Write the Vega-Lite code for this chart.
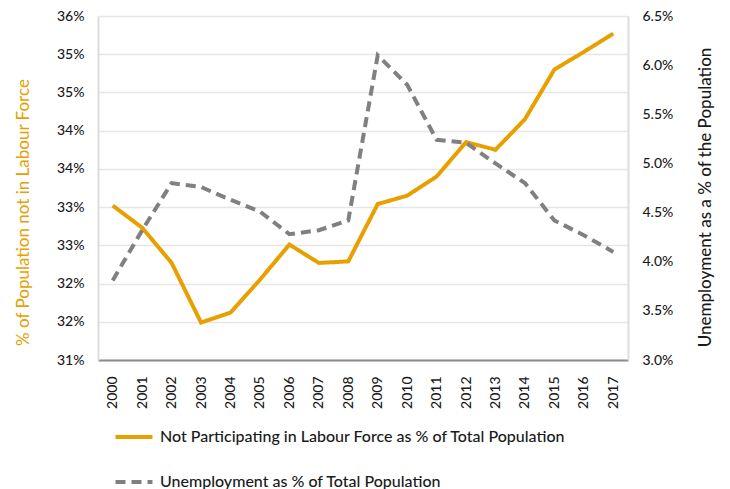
{
  "$schema": "https://vega.github.io/schema/vega-lite/v6.json",
  "width": 530,
  "height": 344,
  "autosize": {"type": "none"},
  "padding": {"left": 98, "top": 16, "right": 102, "bottom": 129},
  "background": "white",
  "config": {
    "font": "Lato",
    "view": {"stroke": null},
    "legend": {
      "orient": "none",
      "legendX": 15,
      "legendY": 400,
      "direction": "vertical",
      "title": null,
      "symbolType": "stroke",
      "symbolSize": 1370,
      "symbolStrokeWidth": 4,
      "labelFontSize": 16,
      "labelColor": "#1a1a1a",
      "labelFontWeight": 500,
      "labelOffset": 5,
      "labelLimit": 600,
      "rowPadding": 16
    }
  },
  "data": {
    "values": [
      {"year": "2000", "series": "Not Participating in Labour Force as % of Total Population", "value": 33.02},
      {"year": "2001", "series": "Not Participating in Labour Force as % of Total Population", "value": 32.73},
      {"year": "2002", "series": "Not Participating in Labour Force as % of Total Population", "value": 32.27},
      {"year": "2003", "series": "Not Participating in Labour Force as % of Total Population", "value": 31.49},
      {"year": "2004", "series": "Not Participating in Labour Force as % of Total Population", "value": 31.62},
      {"year": "2005", "series": "Not Participating in Labour Force as % of Total Population", "value": 32.05},
      {"year": "2006", "series": "Not Participating in Labour Force as % of Total Population", "value": 32.51},
      {"year": "2007", "series": "Not Participating in Labour Force as % of Total Population", "value": 32.27},
      {"year": "2008", "series": "Not Participating in Labour Force as % of Total Population", "value": 32.29},
      {"year": "2009", "series": "Not Participating in Labour Force as % of Total Population", "value": 33.04},
      {"year": "2010", "series": "Not Participating in Labour Force as % of Total Population", "value": 33.15},
      {"year": "2011", "series": "Not Participating in Labour Force as % of Total Population", "value": 33.40},
      {"year": "2012", "series": "Not Participating in Labour Force as % of Total Population", "value": 33.85},
      {"year": "2013", "series": "Not Participating in Labour Force as % of Total Population", "value": 33.75},
      {"year": "2014", "series": "Not Participating in Labour Force as % of Total Population", "value": 34.15},
      {"year": "2015", "series": "Not Participating in Labour Force as % of Total Population", "value": 34.80},
      {"year": "2016", "series": "Not Participating in Labour Force as % of Total Population", "value": 35.03},
      {"year": "2017", "series": "Not Participating in Labour Force as % of Total Population", "value": 35.27},
      {"year": "2000", "series": "Unemployment as % of Total Population", "value": 3.81},
      {"year": "2001", "series": "Unemployment as % of Total Population", "value": 4.32},
      {"year": "2002", "series": "Unemployment as % of Total Population", "value": 4.80},
      {"year": "2003", "series": "Unemployment as % of Total Population", "value": 4.76},
      {"year": "2004", "series": "Unemployment as % of Total Population", "value": 4.63},
      {"year": "2005", "series": "Unemployment as % of Total Population", "value": 4.51},
      {"year": "2006", "series": "Unemployment as % of Total Population", "value": 4.28},
      {"year": "2007", "series": "Unemployment as % of Total Population", "value": 4.32},
      {"year": "2008", "series": "Unemployment as % of Total Population", "value": 4.42},
      {"year": "2009", "series": "Unemployment as % of Total Population", "value": 6.10},
      {"year": "2010", "series": "Unemployment as % of Total Population", "value": 5.80},
      {"year": "2011", "series": "Unemployment as % of Total Population", "value": 5.24},
      {"year": "2012", "series": "Unemployment as % of Total Population", "value": 5.21},
      {"year": "2013", "series": "Unemployment as % of Total Population", "value": 5.00},
      {"year": "2014", "series": "Unemployment as % of Total Population", "value": 4.80},
      {"year": "2015", "series": "Unemployment as % of Total Population", "value": 4.42},
      {"year": "2016", "series": "Unemployment as % of Total Population", "value": 4.27},
      {"year": "2017", "series": "Unemployment as % of Total Population", "value": 4.10}
    ]
  },
  "encoding": {
    "x": {
      "field": "year",
      "type": "ordinal",
      "axis": {
        "title": null,
        "labelAngle": -90,
        "labelFontSize": 14,
        "labelFontWeight": 500,
        "labelColor": "#1a1a1a",
        "labelPadding": 16,
        "ticks": false,
        "domainColor": "#8c8c8c",
        "domainWidth": 2,
        "grid": false
      }
    },
    "color": {
      "field": "series",
      "type": "nominal",
      "scale": {
        "domain": ["Not Participating in Labour Force as % of Total Population", "Unemployment as % of Total Population"],
        "range": ["#E8A000", "#808080"]
      }
    },
    "strokeDash": {
      "field": "series",
      "type": "nominal",
      "scale": {
        "domain": ["Not Participating in Labour Force as % of Total Population", "Unemployment as % of Total Population"],
        "range": [[1, 0], [10, 6]]
      }
    }
  },
  "layer": [
    {
      "transform": [{"filter": "datum.series === 'Not Participating in Labour Force as % of Total Population'"}],
      "mark": {"type": "line", "strokeWidth": 4, "strokeJoin": "miter"},
      "encoding": {
        "y": {
          "field": "value",
          "type": "quantitative",
          "scale": {"domain": [31, 35.5], "nice": false, "zero": false},
          "axis": {
            "orient": "left",
            "values": [31, 31.5, 32, 32.5, 33, 33.5, 34, 34.5, 35, 35.5],
            "labelExpr": "round(datum.value) + '%'",
            "labelFontSize": 14,
            "labelFontWeight": 500,
            "labelColor": "#1a1a1a",
            "labelPadding": 14,
            "ticks": false,
            "domainColor": "#dddddd",
            "domainWidth": 2,
            "gridColor": "#e6e6e6",
            "gridWidth": 1.5,
            "title": "% of  Population not in Labour Force",
            "titleColor": "#E8A000",
            "titleFontSize": 17,
            "titleFontWeight": "normal",
            "titlePadding": 24,
            "titleY": 196
          }
        }
      }
    },
    {
      "transform": [{"filter": "datum.series === 'Unemployment as % of Total Population'"}],
      "mark": {"type": "line", "strokeWidth": 4},
      "encoding": {
        "y": {
          "field": "value",
          "type": "quantitative",
          "scale": {"domain": [3, 6.5], "nice": false, "zero": false},
          "axis": {
            "orient": "right",
            "values": [3, 3.5, 4, 4.5, 5, 5.5, 6, 6.5],
            "labelExpr": "format(datum.value, '.1f') + '%'",
            "labelFontSize": 14,
            "labelFontWeight": 500,
            "labelColor": "#1a1a1a",
            "labelPadding": 14,
            "ticks": false,
            "grid": false,
            "domainColor": "#dddddd",
            "domainWidth": 2,
            "title": "Unemployment as a % of the Population",
            "titleColor": "#1a1a1a",
            "titleFontSize": 17,
            "titleFontWeight": 500,
            "titleAngle": 270,
            "titlePadding": 42,
            "titleY": 181
          }
        }
      }
    }
  ],
  "resolve": {"scale": {"y": "independent"}}
}
